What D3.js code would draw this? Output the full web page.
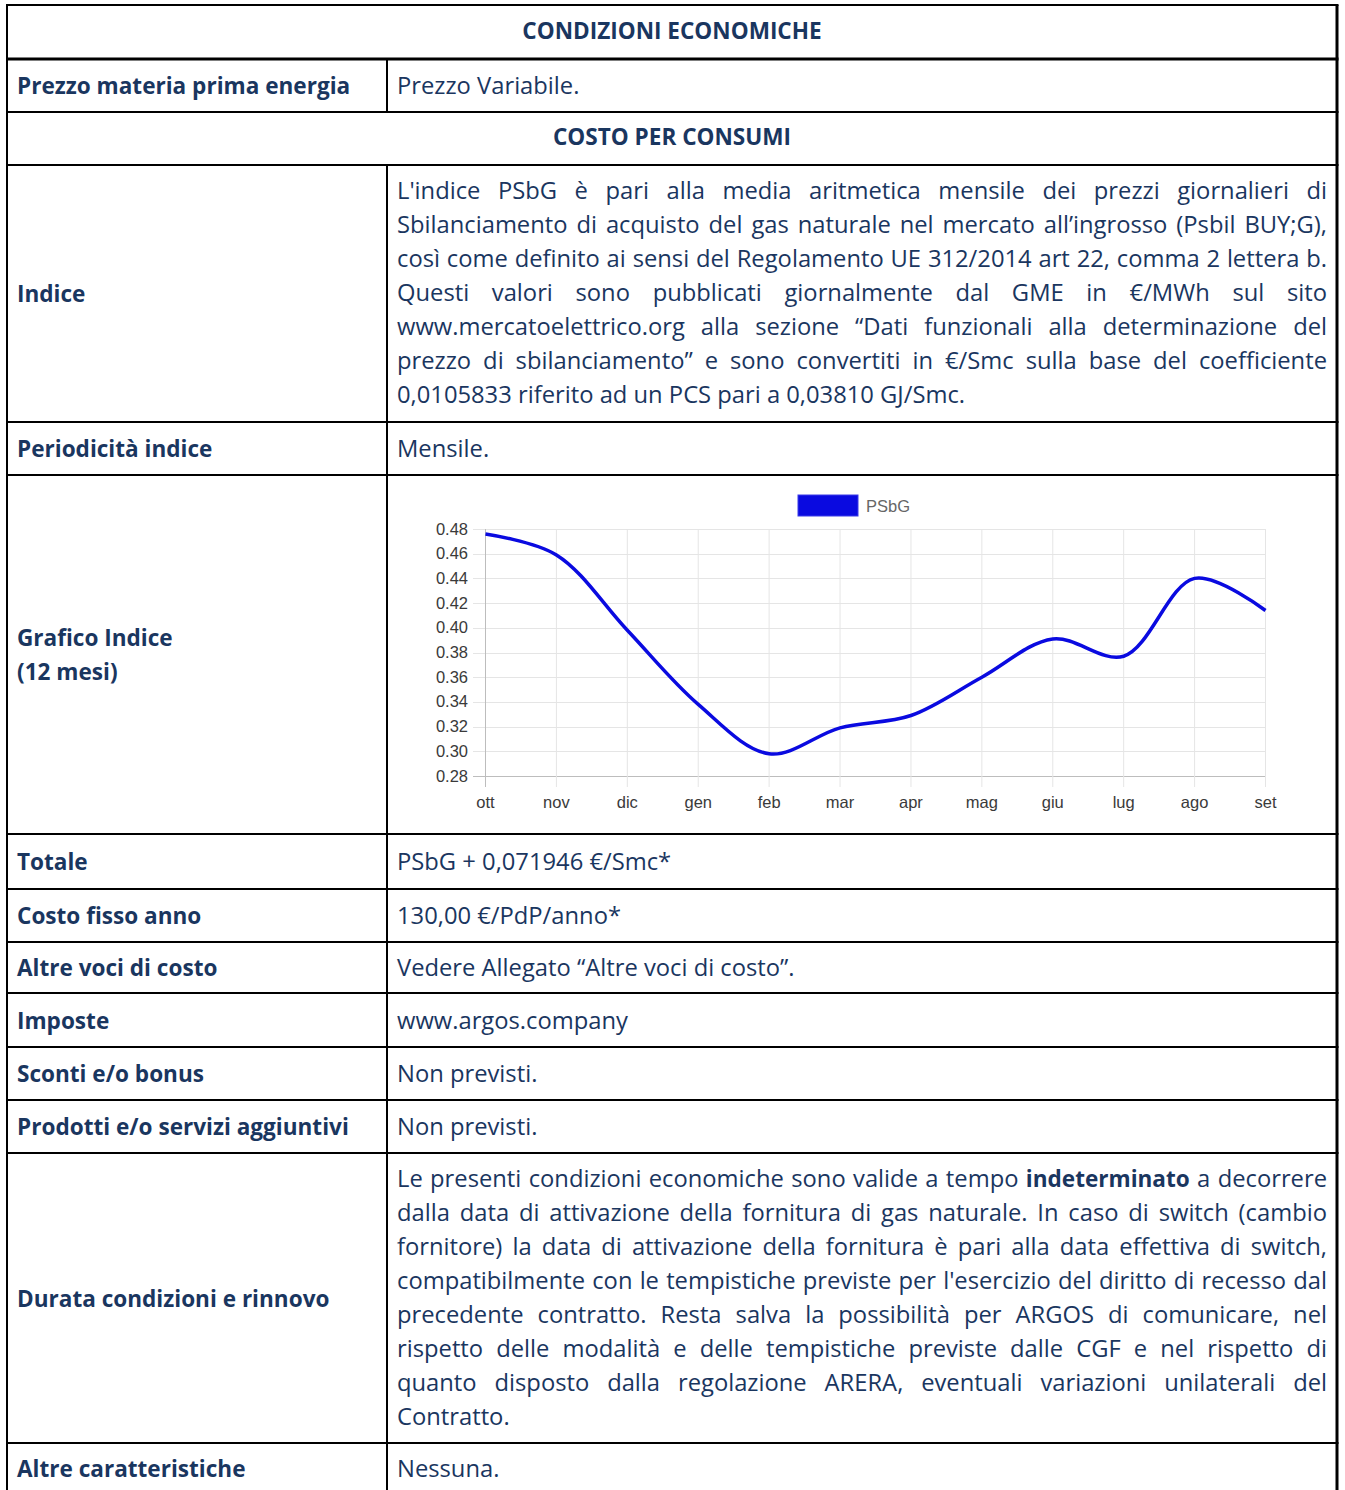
<!DOCTYPE html>
<html>
<head>
    <meta charset="utf-8">
    <title>Condizioni economiche</title>
    <style>
        body { margin: 0; background: #fff; }
        svg { display: block; }
        .cell { fill: #1a365f; font-family: "Open Sans", sans-serif; }
        .tick-label { fill: #3a3a3a; font: 16.5px "Liberation Sans", Arial, sans-serif; }
    </style>
</head>
<body>
<svg id="sheet" width="1345" height="1490"></svg>
<script src="https://d3js.org/d3.v7.min.js"></script>
<script>

// --- chart data ---
var months = ["ott", "nov", "dic", "gen", "feb", "mar", "apr", "mag", "giu", "lug", "ago", "set"];
var psbg = [0.476, 0.459, 0.398, 0.338, 0.298, 0.319, 0.329, 0.360, 0.391, 0.377, 0.440, 0.414];
var yTicks = [0.28, 0.30, 0.32, 0.34, 0.36, 0.38, 0.40, 0.42, 0.44, 0.46, 0.48];
var seriesName = "PSbG";

// --- table text ---
var rowEdges = [5, 59, 112, 165, 422, 475, 834, 889, 942, 993, 1047, 1100, 1153, 1443, 1493];
var rowLabels = [
    "CONDIZIONI ECONOMICHE",
    "Prezzo materia prima energia",
    "COSTO PER CONSUMI",
    "Indice",
    "Periodicità indice",
    "Grafico Indice|(12 mesi)",
    "Totale",
    "Costo fisso anno",
    "Altre voci di costo",
    "Imposte",
    "Sconti e/o bonus",
    "Prodotti e/o servizi aggiuntivi",
    "Durata condizioni e rinnovo",
    "Altre caratteristiche"
];
var headerRows = [0, 2];
var indiceLines = [
    "L'indice PSbG è pari alla media aritmetica mensile dei prezzi giornalieri di",
    "Sbilanciamento di acquisto del gas naturale nel mercato all’ingrosso (Psbil BUY;G),",
    "così come definito ai sensi del Regolamento UE 312/2014 art 22, comma 2 lettera b.",
    "Questi valori sono pubblicati giornalmente dal GME in €/MWh sul sito",
    "www.mercatoelettrico.org alla sezione “Dati funzionali alla determinazione del",
    "prezzo di sbilanciamento” e sono convertiti in €/Smc sulla base del coefficiente",
    "0,0105833 riferito ad un PCS pari a 0,03810 GJ/Smc."
];
var durataLines = [
    "Le presenti condizioni economiche sono valide a tempo **indeterminato a decorrere",
    "dalla data di attivazione della fornitura di gas naturale. In caso di switch (cambio",
    "fornitore) la data di attivazione della fornitura è pari alla data effettiva di switch,",
    "compatibilmente con le tempistiche previste per l'esercizio del diritto di recesso dal",
    "precedente contratto. Resta salva la possibilità per ARGOS di comunicare, nel",
    "rispetto delle modalità e delle tempistiche previste dalle CGF e nel rispetto di",
    "quanto disposto dalla regolazione ARERA, eventuali variazioni unilaterali del",
    "Contratto."
];
var rowValues = {
    1: ["Prezzo Variabile."],
    3: indiceLines,
    4: ["Mensile."],
    6: ["PSbG + 0,071946 €/Smc*"],
    7: ["130,00 €/PdP/anno*"],
    8: ["Vedere Allegato “Altre voci di costo”."],
    9: ["www.argos.company"],
    10: ["Non previsti."],
    11: ["Non previsti."],
    12: durataLines,
    13: ["Nessuna."]
};

var svg = d3.select("#sheet"),
    left = 7, right = 1337, divider = 387,
    textX = 397, textRight = 1327, labelX = 17,
    lineGap = 34;

// measure helper
var probe = svg.append("text").attr("class", "cell").attr("visibility", "hidden");
function measure(str, weight, size) {
    probe.attr("font-weight", weight).attr("font-size", size).text(str);
    return probe.node().getComputedTextLength();
}

// pick font size so plain lines match the widths seen in the picture
var fs = 100 * (179 + 93 + 571) / (measure("Prezzo Variabile.", 400, 100) + measure("Mensile.", 400, 100) +
    measure(indiceLines[indiceLines.length - 1], 400, 100));
var fsBold = fs * 0.95;
var baseShift = fs * 0.36;

var g = svg.append("g");

// draws one line, justified if asked
function drawLine(str, y, justify) {
    var words = str.split(" ").map(function(w) {
        var bold = w.indexOf("**") === 0;
        return { text: bold ? w.slice(2) : w, weight: bold ? 700 : 400 };
    });
    var widths = words.map(function(w) { return measure(w.text, w.weight, w.weight === 700 ? fsBold : fs); });
    var total = d3.sum(widths);
    var gap = justify && words.length > 1 ? (textRight - textX - total) / (words.length - 1) : measure("a b", 400, fs) - measure("ab", 400, fs);
    var x = textX;
    words.forEach(function(w, i) {
        g.append("text").attr("class", "cell")
            .attr("x", x).attr("y", y + baseShift)
            .attr("font-size", w.weight === 700 ? fsBold : fs).attr("font-weight", w.weight)
            .text(w.text);
        x += widths[i] + gap;
    });
}

rowLabels.forEach(function(label, i) {
    var top = rowEdges[i], bottom = rowEdges[i + 1], mid = (top + bottom) / 2;
    if (headerRows.indexOf(i) >= 0) {
        g.append("text").attr("class", "cell")
            .attr("x", (left + right) / 2).attr("y", mid - 2 + baseShift)
            .attr("text-anchor", "middle").attr("font-size", fsBold).attr("font-weight", 700)
            .text(label);
        return;
    }
    var parts = label.split("|");
    parts.forEach(function(p, k) {
        g.append("text").attr("class", "cell")
            .attr("x", labelX).attr("y", mid + (k - (parts.length - 1) / 2) * lineGap + baseShift)
            .attr("font-size", fsBold).attr("font-weight", 700)
            .text(p);
    });
    var lines = rowValues[i];
    if (!lines) return;
    if (lines.length === 1) {
        drawLine(lines[0], mid, false);
    } else {
        lines.forEach(function(line, k) {
            drawLine(line, top + 25 + k * lineGap, k < lines.length - 1);
        });
    }
});

// --- chart ---
var chart = svg.append("g");
var x = d3.scalePoint().domain(months).range([485.5, 1265.5]);
var y = d3.scaleLinear().domain([0.28, 0.48]).range([776, 529]);

chart.selectAll("line.hgrid").data(yTicks).enter().append("line")
    .attr("x1", 473).attr("x2", x.range()[1])
    .attr("y1", function(d) { return Math.round(y(d)) + 0.5; })
    .attr("y2", function(d) { return Math.round(y(d)) + 0.5; })
    .attr("stroke", function(d, i) { return i === 0 ? "#bdbdbd" : "#e5e5e5"; });

chart.selectAll("line.vgrid").data(months).enter().append("line")
    .attr("x1", function(d) { return x(d); }).attr("x2", function(d) { return x(d); })
    .attr("y1", y(0.48)).attr("y2", 787)
    .attr("stroke", function(d, i) { return i === 0 ? "#bdbdbd" : "#e5e5e5"; });

chart.selectAll("text.ylab").data(yTicks).enter().append("text")
    .attr("class", "tick-label")
    .attr("x", 468).attr("y", function(d) { return y(d) + 5.5; })
    .attr("text-anchor", "end")
    .text(function(d) { return d3.format(".2f")(d); });

chart.selectAll("text.xlab").data(months).enter().append("text")
    .attr("class", "tick-label")
    .attr("x", function(d) { return x(d); }).attr("y", 808)
    .attr("text-anchor", "middle")
    .text(function(d) { return d; });

var line = d3.line()
    .x(function(d, i) { return x(months[i]); })
    .y(function(d) { return y(d); })
    .curve(d3.curveCatmullRom.alpha(0.5));

chart.append("path").datum(psbg)
    .attr("d", line)
    .attr("fill", "none")
    .attr("stroke", "#0a0ae0")
    .attr("stroke-width", 3.5);

// legend
chart.append("rect").attr("x", 798).attr("y", 495).attr("width", 60).attr("height", 21)
    .attr("fill", "#0a0ae0").attr("stroke", "#3a3ae8").attr("stroke-width", 1);
chart.append("text").attr("x", 866).attr("y", 512)
    .attr("fill", "#666").style("font", "16.5px 'Liberation Sans', Arial, sans-serif")
    .text(seriesName);

// --- borders ---
var borders = svg.append("g").attr("stroke", "#000");
rowEdges.slice(0, -1).forEach(function(e, i) {
    borders.append("line").attr("x1", left - 1).attr("x2", right + 1.5)
        .attr("y1", e).attr("y2", e).attr("stroke-width", i === 1 ? 3 : 2);
});
borders.append("line").attr("x1", left).attr("x2", left).attr("y1", rowEdges[0]).attr("y2", 1490).attr("stroke-width", 2);
borders.append("line").attr("x1", right).attr("x2", right).attr("y1", rowEdges[0]).attr("y2", 1490).attr("stroke-width", 3);
rowLabels.forEach(function(l, i) {
    if (headerRows.indexOf(i) >= 0) return;
    borders.append("line").attr("x1", divider).attr("x2", divider)
        .attr("y1", rowEdges[i]).attr("y2", rowEdges[i + 1]).attr("stroke-width", 2);
});

probe.remove();
</script>
</body>
</html>
